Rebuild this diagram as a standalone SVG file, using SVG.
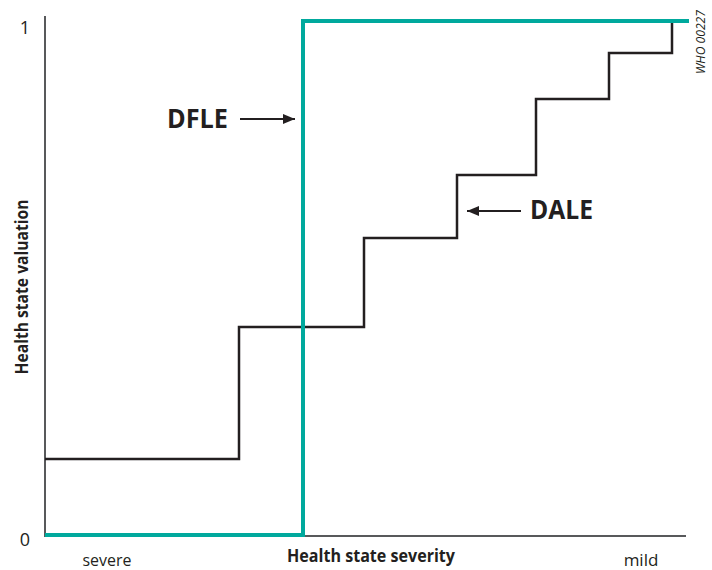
<svg xmlns="http://www.w3.org/2000/svg" width="712" height="570" viewBox="0 0 712 570">
<defs>
<marker id="ah" viewBox="0 0 12 10" refX="12" refY="5" markerWidth="12" markerHeight="10" markerUnits="userSpaceOnUse" orient="auto">
<path d="M0,0 L12,5 L0,10 z" fill="#231f20"/>
</marker>
<style>
.t{font-family:"Open Sans","Noto Sans",sans-serif;fill:#231f20}
.b{font-weight:bold}
.axis{stroke:#58595b;stroke-width:2;fill:none}
.dale{stroke:#231f20;stroke-width:2.5;fill:none}
.dfle{stroke:#00a99d;stroke-width:4;fill:none}
.arr{stroke:#231f20;stroke-width:2;fill:none}
</style>
</defs>
<g id="axes">
<path class="axis" d="M45,16 V536 H686"/>
<text class="t" x="25" y="34" font-size="18" text-anchor="middle">1</text>
<text class="t" x="25" y="546" font-size="18" text-anchor="middle">0</text>
<text class="t b" transform="translate(28,287) rotate(-90)" font-size="17" text-anchor="middle" textLength="175" lengthAdjust="spacingAndGlyphs">Health state valuation</text>
<text class="t" x="107" y="566" font-size="17" text-anchor="middle" textLength="49" lengthAdjust="spacingAndGlyphs">severe</text>
<text class="t b" x="371" y="562" font-size="17" text-anchor="middle" textLength="168" lengthAdjust="spacingAndGlyphs">Health state severity</text>
<text class="t" x="641" y="566" font-size="17" text-anchor="middle">mild</text>
<text class="t" transform="translate(705,42) rotate(-90)" font-size="12" font-style="italic" text-anchor="middle" textLength="64" lengthAdjust="spacingAndGlyphs">WHO 00227</text>
</g>
<g id="dale">
<path class="dale" d="M45,459 H239 V327 H364 V238 H457 V175 H536 V99 H609 V53 H672 V21"/>
</g>
<g id="dfle">
<path class="dfle" d="M45,535 H303 V21 H689"/>
</g>
<g id="connectors">
<line class="arr" x1="240" y1="119" x2="295" y2="119" marker-end="url(#ah)"/>
<line class="arr" x1="521" y1="211" x2="467" y2="211" marker-end="url(#ah)"/>
</g>
<g id="label-dfle">
<text class="t b" x="167" y="128" font-size="27" textLength="61" lengthAdjust="spacingAndGlyphs">DFLE</text>
</g>
<g id="label-dale">
<text class="t b" x="530" y="219" font-size="27" textLength="63" lengthAdjust="spacingAndGlyphs">DALE</text>
</g>
</svg>
